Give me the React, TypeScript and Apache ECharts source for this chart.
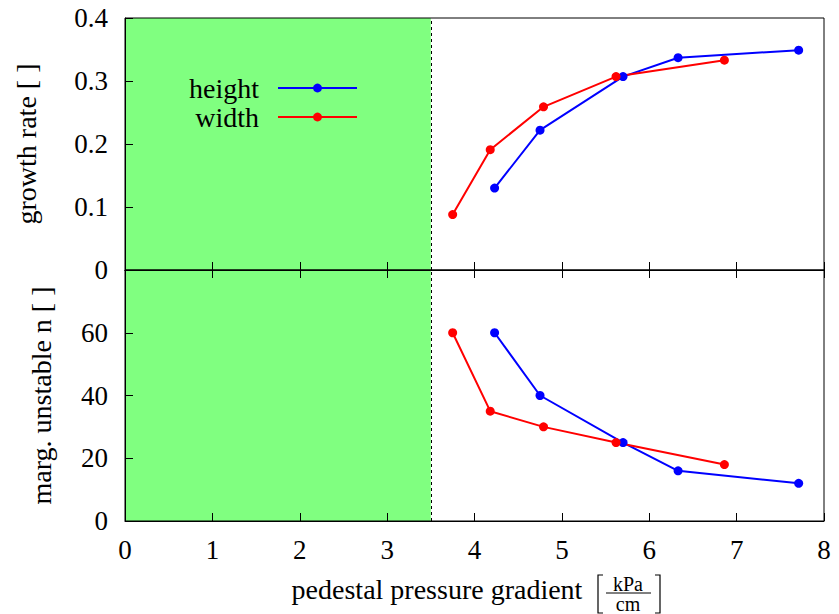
import React, { useEffect, useRef } from "react";
import * as echarts from "echarts";

// pedestal pressure gradient [kPa/cm]
const heightX = [4.23, 4.75, 5.70, 6.33, 7.71];
const heightGrowth = [0.130, 0.222, 0.307, 0.337, 0.349];
const heightN = [60, 40, 25, 16, 12];

const widthX = [3.75, 4.18, 4.79, 5.62, 6.86];
const widthGrowth = [0.088, 0.191, 0.259, 0.307, 0.333];
const widthN = [60, 35, 30, 25, 18];

const stableLimit = 3.5;
const xRange = [0, 8];
const growthRange = [0, 0.4];
const nRange = [0, 80];

const FONT = "Liberation Serif";

export default function App() {
  const ref = useRef<HTMLDivElement>(null);

  useEffect(() => {
    if (!ref.current) return;
    const chart = echarts.init(ref.current, null, { renderer: "svg" });

    const axisLine = { show: true, lineStyle: { color: "#000", width: 1 } };
    const tick = { show: true, inside: true, length: 8, lineStyle: { color: "#000", width: 1 } };
    const noSplit = { show: false };
    const labelStyle = { fontSize: 27, color: "#000", fontFamily: FONT };

    const zip = (xs: number[], ys: number[]) => xs.map((x, i) => [x, ys[i]]);

    const shade = {
      silent: true,
      z: -1,
      itemStyle: { color: "#80ff80", opacity: 1 },
      data: [[{ xAxis: xRange[0] }, { xAxis: stableLimit }]],
    };
    const limitLine = {
      silent: true,
      symbol: "none",
      z: 3,
      label: { show: false },
      lineStyle: { type: [3, 3], color: "#000", width: 1 },
      data: [{ xAxis: stableLimit }],
    };

    const lineSeries = (name: string, color: string, data: number[][], xi: number, yi: number) => ({
      type: "line",
      name,
      xAxisIndex: xi,
      yAxisIndex: yi,
      data,
      symbol: "circle",
      symbolSize: 9,
      color,
      lineStyle: { color, width: 2 },
      itemStyle: { color },
      z: 4,
    });

    const legendBase = {
      right: 481,
      orient: "horizontal",
      align: "right",
      itemWidth: 79,
      itemHeight: 11,
      padding: 0,
      selectedMode: false,
      textStyle: { fontSize: 28, fontFamily: FONT, color: "#000", padding: [0, 14, 0, 0] },
    };

    const option: any = {
      animation: false,
      textStyle: { fontFamily: FONT, color: "#000" },
      grid: [
        { left: 125, right: 15, top: 18, height: 252, show: true, borderColor: "#000", borderWidth: 1, backgroundColor: "transparent" },
        { left: 125, right: 15, top: 270, height: 251, show: true, borderColor: "#000", borderWidth: 1, backgroundColor: "transparent" },
      ],
      xAxis: [
        {
          type: "value", gridIndex: 0, min: xRange[0], max: xRange[1], interval: 1, position: "bottom",
          axisLine, axisTick: tick, axisLabel: { show: false }, splitLine: noSplit,
        },
        {
          type: "value", gridIndex: 1, min: xRange[0], max: xRange[1], interval: 1, position: "bottom",
          axisLine, axisTick: tick, axisLabel: { ...labelStyle, margin: 15 }, splitLine: noSplit,
          name: "pedestal pressure gradient", nameLocation: "middle", nameGap: 54,
          nameTextStyle: { fontSize: 28, color: "#000", fontFamily: FONT, padding: [0, 75, 0, 0] },
        },
        {
          type: "value", gridIndex: 1, min: xRange[0], max: xRange[1], interval: 1, position: "top",
          axisLine, axisTick: tick, axisLabel: { show: false }, splitLine: noSplit,
        },
      ],
      yAxis: [
        {
          type: "value", gridIndex: 0, min: growthRange[0], max: growthRange[1], interval: 0.1,
          axisLine, axisTick: tick, axisLabel: { ...labelStyle, margin: 17 }, splitLine: noSplit,
          name: "growth rate [ ]", nameLocation: "middle", nameGap: 85,
          nameTextStyle: { fontSize: 28, color: "#000", fontFamily: FONT },
        },
        {
          type: "value", gridIndex: 1, min: nRange[0], max: nRange[1], interval: 20,
          axisLine, axisTick: tick,
          axisLabel: { ...labelStyle, margin: 17, formatter: (v: number) => (v >= nRange[1] ? "" : String(v)) },
          splitLine: noSplit,
          name: "marg. unstable n [ ]", nameLocation: "middle", nameGap: 70,
          nameTextStyle: { fontSize: 28, color: "#000", fontFamily: FONT },
        },
      ],
      legend: [
        { ...legendBase, data: ["height"], top: 74 },
        { ...legendBase, data: ["width"], top: 103 },
      ],
      graphic: [
        { type: "polyline", shape: { points: [[603, 575], [598, 575], [598, 613], [603, 613]] }, style: { stroke: "#000", lineWidth: 1.2, fill: "none" } },
        { type: "polyline", shape: { points: [[655, 575], [660, 575], [660, 613], [655, 613]] }, style: { stroke: "#000", lineWidth: 1.2, fill: "none" } },
        { type: "text", x: 628, y: 584, style: { text: "kPa", fontSize: 20, fontFamily: FONT, fill: "#000", align: "center", verticalAlign: "middle" } },
        { type: "line", shape: { x1: 606, y1: 593, x2: 651, y2: 593 }, style: { stroke: "#000", lineWidth: 1 } },
        { type: "text", x: 628, y: 604, style: { text: "cm", fontSize: 20, fontFamily: FONT, fill: "#000", align: "center", verticalAlign: "middle" } },
      ],
      series: [
        { type: "line", name: "stable-top", xAxisIndex: 0, yAxisIndex: 0, data: [], markArea: shade, markLine: limitLine },
        { type: "line", name: "stable-bottom", xAxisIndex: 1, yAxisIndex: 1, data: [], markArea: shade, markLine: limitLine },
        lineSeries("height", "#0000ff", zip(heightX, heightGrowth), 0, 0),
        lineSeries("width", "#ff0000", zip(widthX, widthGrowth), 0, 0),
        lineSeries("height", "#0000ff", zip(heightX, heightN), 1, 1),
        lineSeries("width", "#ff0000", zip(widthX, widthN), 1, 1),
      ],
    };

    chart.setOption(option);
    return () => chart.dispose();
  }, []);

  return (
    <div
      ref={ref}
      style={{ position: "fixed", left: 0, top: 0, width: 839, height: 614, background: "#fff" }}
    />
  );
}
